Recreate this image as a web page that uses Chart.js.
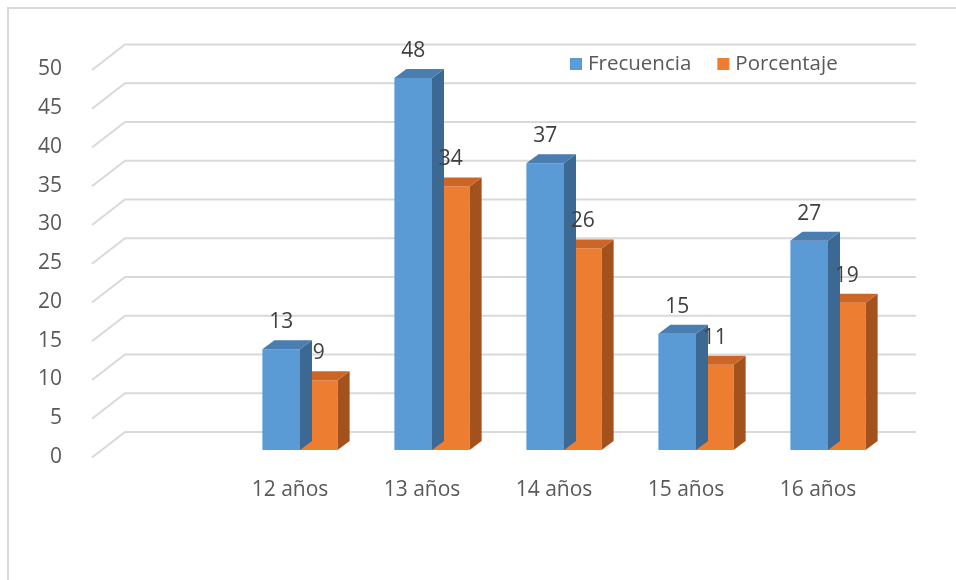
<!DOCTYPE html>
<html>
<head>
<meta charset="utf-8">
<script src="https://cdn.jsdelivr.net/npm/chart.js@4"></script>
<style>
  html, body { margin: 0; padding: 0; background: #fff; }
  #wrap { position: relative; width: 956px; height: 580px; overflow: hidden; }
  #frame { position: absolute; left: 7px; top: 7px; width: 1000px; height: 600px;
           border-top: 2px solid #d9d9d9; border-left: 2px solid #d9d9d9; }
  canvas { position: absolute; left: 0; top: 0; }
</style>
</head>
<body>
<div id="wrap">
  <div id="frame"></div>
  <canvas id="c" width="956" height="580"></canvas>
</div>
<script>
// ---- data ----
const categories = ["", "12 años", "13 años", "14 años", "15 años", "16 años"];
const frecuencia = [null, 13, 48, 37, 15, 27];
const porcentaje = [null, 9, 34, 26, 11, 19];
const seriesNames = ["Frecuencia", "Porcentaje"];

const FONT = "'Open Sans', 'Noto Sans', sans-serif";
const DEPTH_X = 12, DEPTH_Y = -9;
const faceColors = [
  { front: "#5B9BD5", top: "#4a7db0", side: "#3b6993" },
  { front: "#ED7D31", top: "#cc6526", side: "#a3521d" }
];

function shade3D(chart, dsIndex) {
  const ctx = chart.ctx;
  const meta = chart.getDatasetMeta(dsIndex);
  const col = faceColors[dsIndex];
  meta.data.forEach((bar, i) => {
    const v = chart.data.datasets[dsIndex].data[i];
    if (v === null || v === undefined) return;
    const half = bar.width / 2;
    const l = bar.x - half, r = bar.x + half, t = bar.y, b = bar.base;
    ctx.save();
    ctx.fillStyle = col.side;
    ctx.beginPath();
    ctx.moveTo(r, b); ctx.lineTo(r + DEPTH_X, b + DEPTH_Y);
    ctx.lineTo(r + DEPTH_X, t + DEPTH_Y); ctx.lineTo(r, t); ctx.closePath(); ctx.fill();
    ctx.fillStyle = col.top;
    ctx.beginPath();
    ctx.moveTo(l, t); ctx.lineTo(l + DEPTH_X, t + DEPTH_Y);
    ctx.lineTo(r + DEPTH_X, t + DEPTH_Y); ctx.lineTo(r, t); ctx.closePath(); ctx.fill();
    ctx.restore();
  });
}

const threeD = {
  id: "threeD",
  beforeDatasetsDraw(chart) {
    const ctx = chart.ctx, y = chart.scales.y, area = chart.chartArea;
    ctx.save();
    ctx.strokeStyle = "#d9d9d9";
    ctx.lineWidth = 2;
    y.ticks.forEach(tk => {
      const py = y.getPixelForValue(tk.value);
      ctx.beginPath();
      ctx.moveTo(area.left - 10, py + 7.5);
      ctx.lineTo(area.left + 23, py - 18);
      ctx.lineTo(area.right + 22, py - 18);
      ctx.stroke();
    });
    ctx.restore();
  },
  afterDatasetDraw(chart, args) {
    shade3D(chart, args.index);
  },
  afterDraw(chart) {
    const ctx = chart.ctx;
    ctx.save();
    ctx.font = "21px " + FONT;
    ctx.fillStyle = "#404040";
    ctx.textAlign = "center";
    ctx.textBaseline = "middle";
    chart.data.datasets.forEach((ds, di) => {
      chart.getDatasetMeta(di).data.forEach((bar, i) => {
        const v = ds.data[i];
        if (v === null || v === undefined) return;
        ctx.fillText(String(v), bar.x, bar.y - 27);
      });
    });
    ctx.font = "20.5px " + FONT;
    ctx.textAlign = "left";
    let x = 570;
    const ly = 64;
    chart.data.datasets.forEach((ds, di) => {
      ctx.fillStyle = ds.backgroundColor;
      ctx.fillRect(x, ly - 6, 12, 12);
      ctx.fillStyle = "#595959";
      ctx.fillText(ds.label, x + 18, ly);
      x += 18 + ctx.measureText(ds.label).width + 26;
    });
    ctx.restore();
  }
};

new Chart(document.getElementById("c"), {
  type: "bar",
  data: {
    labels: categories,
    datasets: [
      { label: seriesNames[0], data: frecuencia, backgroundColor: faceColors[0].front },
      { label: seriesNames[1], data: porcentaje, backgroundColor: faceColors[1].front }
    ]
  },
  options: {
    responsive: false,
    animation: false,
    devicePixelRatio: 1,
    layout: { padding: { top: 62.5, right: 62, left: 0, bottom: 0 } },
    datasets: { bar: { barPercentage: 1, categoryPercentage: 0.57 } },
    plugins: { legend: { display: false }, tooltip: { enabled: false } },
    scales: {
      x: {
        grid: { display: false }, border: { display: false },
        ticks: { color: "#595959", font: { family: FONT, size: 21 }, padding: 19, labelOffset: -10, maxRotation: 0 },
        afterFit(s) { s.height = 130; }
      },
      y: {
        min: 0, max: 50,
        grid: { display: false }, border: { display: false },
        ticks: { stepSize: 5, color: "#595959", font: { family: FONT, size: 21 }, padding: 32, labelOffset: 7 },
        afterFit(s) { s.width = 102; }
      }
    }
  },
  plugins: [threeD]
});
</script>
</body>
</html>
